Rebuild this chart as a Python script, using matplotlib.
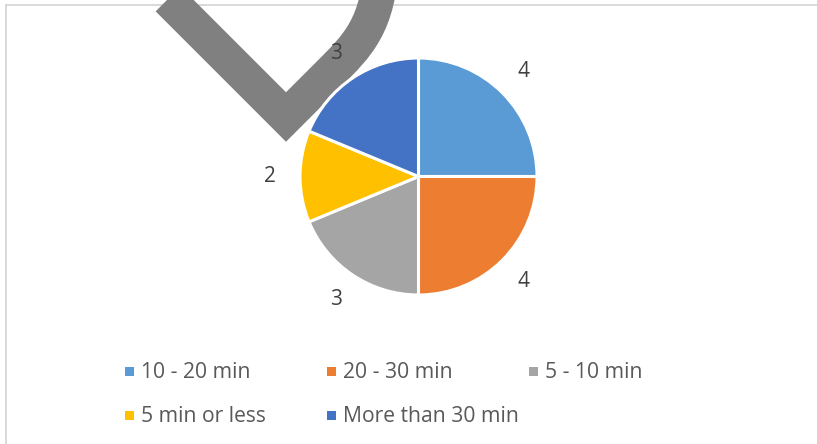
import matplotlib
matplotlib.use("Agg")
import matplotlib.pyplot as plt
from matplotlib.path import Path
from matplotlib.patches import PathPatch, Rectangle
from matplotlib.lines import Line2D

categories = ["10 - 20 min", "20 - 30 min", "5 - 10 min", "5 min or less", "More than 30 min"]
values = [4, 4, 3, 2, 3]
colors = ["#5B9BD5", "#ED7D31", "#A5A5A5", "#FFC000", "#4472C4"]

plt.rcParams['font.family'] = ['Open Sans', 'DejaVu Sans']

W, H = 817, 444
fig = plt.figure(figsize=(W / 100, H / 100), dpi=100)
fig.patch.set_facecolor("white")

def fx(x):
    return x / W

def fy(y):
    return 1 - y / H

# chart border (cropped)
fig.add_artist(Line2D([fx(5.5), fx(817)], [fy(5.5), fy(5.5)], color="#D9D9D9", lw=1.4, zorder=-3))
fig.add_artist(Line2D([fx(5.5), fx(5.5)], [fy(5.5), fy(444)], color="#D9D9D9", lw=1.4, zorder=-3))

# gray check-mark overlay drawing
pts = [(100, -69), (286, 117), (330, 73), (356, 47), (380, 25), (381, -40)]
codes = [Path.MOVETO, Path.LINETO, Path.LINETO, Path.CURVE4, Path.CURVE4, Path.CURVE4]
path = Path([(fx(x), fy(y)) for x, y in pts], codes)
fig.add_artist(PathPatch(path, transform=fig.transFigure, fill=False, edgecolor="#808080",
                         lw=35 * 0.72, joinstyle="miter", capstyle="butt", zorder=-2))

# pie
cx, cy, r = 418.5, 176.5, 118.5
ax = fig.add_axes([fx(cx - r), fy(cy + r), 2 * r / W, 2 * r / H])
total = sum(values)
wedges, texts, autotexts = ax.pie(
    values, colors=colors, startangle=90, counterclock=False, radius=1,
    autopct=lambda p: f"{round(p * total / 100):d}", pctdistance=1.25,
    wedgeprops=dict(edgecolor="white", linewidth=2.2),
    textprops=dict(color="#404040", fontsize=15))
ax.set_xlim(-1, 1)
ax.set_ylim(-1, 1)
ax.set_aspect("equal")
ax.axis("off")

# legend (manual, Excel-like fixed columns)
mx = [125, 327, 529, 125, 327]
my = [371, 371, 371, 415, 415]
for lab, col, x, y in zip(categories, colors, mx, my):
    fig.add_artist(Rectangle((fx(x), fy(y + 4.5)), 9 / W, 9 / H, transform=fig.transFigure,
                             facecolor=col, edgecolor="none"))
    fig.text(fx(x + 16), fy(y + 6.5), lab, color="#595959", fontsize=15.2,
             ha="left", va="baseline")

fig.savefig("out.png", dpi=100, facecolor="white")
